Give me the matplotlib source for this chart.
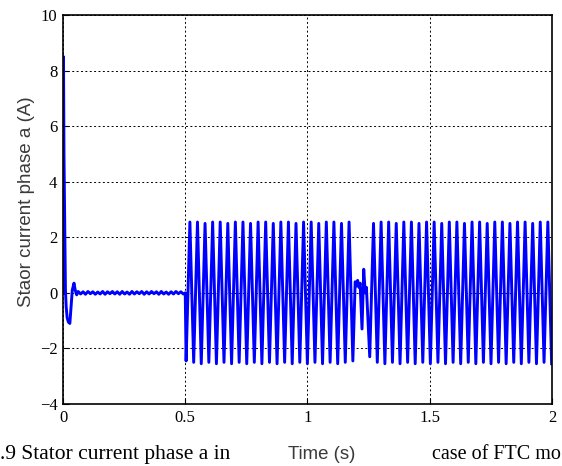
import numpy as np
import matplotlib
matplotlib.use("Agg")
import matplotlib.pyplot as plt

# start-up transient (s, A)
start_t = [0.0, 0.002, 0.004, 0.006, 0.008, 0.010, 0.013, 0.017, 0.022, 0.028,
           0.033, 0.038, 0.045, 0.050, 0.056]
start_v = [0.0, 8.5, 5.0, 3.2, 1.7, 0.1, -0.5, -0.9, -1.05, -1.1,
           -0.5, 0.1, 0.35, 0.1, -0.07]

# small ripple before the fault at 0.5 s
ripple_t = [0.062, 0.072, 0.082, 0.092, 0.102, 0.112, 0.122, 0.132, 0.142, 0.152,
            0.162, 0.172, 0.182, 0.192, 0.202, 0.212, 0.222, 0.232, 0.242, 0.252,
            0.262, 0.272, 0.282, 0.292, 0.302, 0.312, 0.322, 0.332, 0.342, 0.352,
            0.362, 0.372, 0.382, 0.392, 0.402, 0.412, 0.422, 0.432, 0.442, 0.452,
            0.462, 0.472, 0.482, 0.492, 0.500]
ripple_v = [0.05, -0.04, 0.04, -0.05, 0.05, -0.03, 0.04, -0.05, 0.03, -0.04,
            0.05, -0.05, 0.04, -0.03, 0.05, -0.04, 0.04, -0.05, 0.05, -0.04,
            0.03, -0.05, 0.05, -0.04, 0.04, -0.03, 0.05, -0.05, 0.04, -0.04,
            0.05, -0.03, 0.04, -0.05, 0.05, -0.04, 0.03, -0.05, 0.04, -0.04,
            0.05, -0.03, 0.04, -0.04, 0.0]

# first oscillating interval: troughs and peaks
segA_trough_t = [0.5035, 0.5345, 0.5655, 0.5965, 0.6275, 0.6585, 0.6895, 0.7205,
                 0.7515, 0.7825, 0.8135, 0.8445, 0.8755, 0.9065, 0.9375, 0.9685,
                 0.9995, 1.0305, 1.0615, 1.0925, 1.1235, 1.1545, 1.1855]
segA_trough_v = [-2.45, -2.5, -2.55, -2.5, -2.55, -2.5, -2.55, -2.5,
                 -2.55, -2.5, -2.55, -2.5, -2.55, -2.5, -2.55, -2.5,
                 -2.55, -2.5, -2.55, -2.5, -2.55, -2.5, -2.45]
segA_peak_t = [0.519, 0.550, 0.581, 0.612, 0.643, 0.674, 0.705, 0.736,
               0.767, 0.798, 0.829, 0.860, 0.891, 0.922, 0.953, 0.984,
               1.015, 1.046, 1.077, 1.108, 1.139, 1.170]
segA_peak_v = [2.55, 2.55, 2.5, 2.55, 2.55, 2.5, 2.55, 2.55,
               2.5, 2.55, 2.55, 2.5, 2.55, 2.55, 2.5, 2.55,
               2.55, 2.5, 2.55, 2.55, 2.5, 2.55]

# disturbance around 1.2 s
dist_t = [1.195, 1.200, 1.205, 1.210, 1.215, 1.223, 1.230, 1.236, 1.241]
dist_v = [0.4, 0.25, 0.45, 0.2, 0.35, -1.3, 0.85, 0.0, 0.2]

# second oscillating interval
segB_trough_t = [1.2545, 1.2855, 1.3165, 1.3475, 1.3785, 1.4095, 1.4405, 1.4715,
                 1.5025, 1.5335, 1.5645, 1.5955, 1.6265, 1.6575, 1.6885, 1.7195,
                 1.7505, 1.7815, 1.8125, 1.8435, 1.8745, 1.9055, 1.9365, 1.9675,
                 1.9985]
segB_trough_v = [-2.3, -2.5, -2.55, -2.5, -2.55, -2.5, -2.55, -2.5,
                 -2.55, -2.5, -2.55, -2.5, -2.55, -2.5, -2.55, -2.5,
                 -2.55, -2.5, -2.55, -2.5, -2.55, -2.5, -2.55, -2.5,
                 -2.55]
segB_peak_t = [1.270, 1.301, 1.332, 1.363, 1.394, 1.425, 1.456, 1.487,
               1.518, 1.549, 1.580, 1.611, 1.642, 1.673, 1.704, 1.735,
               1.766, 1.797, 1.828, 1.859, 1.890, 1.921, 1.952, 1.983]
segB_peak_v = [2.5, 2.55, 2.55, 2.5, 2.55, 2.55, 2.5, 2.55,
               2.55, 2.5, 2.55, 2.55, 2.5, 2.55, 2.55, 2.5,
               2.55, 2.55, 2.5, 2.55, 2.55, 2.5, 2.55, 2.55]

x_ticks = [0, 0.5, 1, 1.5, 2]
x_labels = ["0", "0.5", "1", "1.5", "2"]
y_ticks = [-4, -2, 0, 2, 4, 6, 8, 10]

t = np.concatenate([start_t, ripple_t, segA_trough_t, segA_peak_t, dist_t,
                    segB_trough_t, segB_peak_t])
v = np.concatenate([start_v, ripple_v, segA_trough_v, segA_peak_v, dist_v,
                    segB_trough_v, segB_peak_v])
order = np.argsort(t, kind="stable")
t, v = t[order], v[order]

fig = plt.figure(figsize=(5.62, 4.66), dpi=100)
ax = fig.add_axes([0.1121, 0.133, 0.8701, 0.8348])

ax.plot(t, v, color="#0000ff", lw=2.1)

ax.set_xlim(0, 2)
ax.set_ylim(-4, 10)
ax.set_xticks(x_ticks)
ax.set_xticklabels(x_labels)
ax.set_yticks(y_ticks)
ax.grid(True, color="black", linestyle=(0, (2, 2.5)), lw=0.7)
ax.tick_params(direction="in", length=4, color="black", labelsize=12, pad=4)
for lab in ax.get_xticklabels() + ax.get_yticklabels():
    lab.set_family("Liberation Serif")
for s in ax.spines.values():
    s.set_linewidth(1.2)
    s.set_color("black")

ax.set_ylabel("Staor current phase a (A)", family="Liberation Sans",
              fontsize=13.5, color="#3a3a3a", labelpad=4)
ax.yaxis.set_label_coords(-0.058, 0.52)

# caption line overlapping the axis label
fig.text(0.0, 0.014, ".9 Stator current phase a in", family="Liberation Serif",
         fontsize=15.5, color="black", ha="left", va="baseline")
fig.text(0.572, 0.014, "Time (s)", family="Liberation Sans",
         fontsize=13.4, color="#3a3a3a", ha="center", va="baseline")
fig.text(0.769, 0.014, "case of FTC mo", family="Liberation Serif",
         fontsize=14.5, color="black", ha="left", va="baseline")

fig.savefig("out.png", dpi=100)
